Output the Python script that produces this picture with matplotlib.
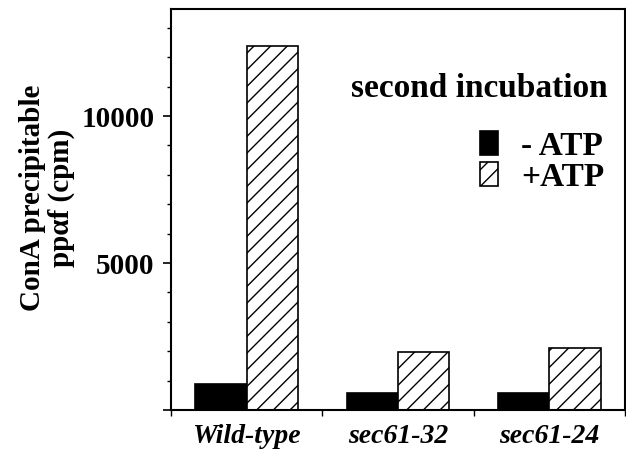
import matplotlib
matplotlib.use("Agg")
import matplotlib.pyplot as plt
from matplotlib.ticker import MultipleLocator, FixedLocator, FuncFormatter
import numpy as np

plt.rcParams['font.family'] = ['Liberation Serif', 'DejaVu Serif']
plt.rcParams['hatch.linewidth'] = 1.0

strains = ['Wild-type', 'sec61-32', 'sec61-24']
minus_atp = [900, 590, 580]
plus_atp = [12400, 1990, 2100]
series_labels = ['- ATP', '+ATP']

fig = plt.figure(figsize=(6.26, 4.53), dpi=100)
ax = fig.add_axes([0.2732, 0.0949, 0.7252, 0.8851])

x = np.arange(len(strains))
w = 0.34
b1 = ax.bar(x - w / 2, minus_atp, w, color='black', edgecolor='black', linewidth=1.2,
            label=series_labels[0])
b2 = ax.bar(x + w / 2, plus_atp, w, color='white', edgecolor='black', linewidth=1.2,
            hatch='//', label=series_labels[1])

ax.set_xlim(-0.5, 2.5)
ax.set_ylim(0, 13640)

# y ticks
ax.yaxis.set_major_locator(FixedLocator([0, 5000, 10000]))
ax.yaxis.set_minor_locator(MultipleLocator(1000))
ax.yaxis.set_major_formatter(FuncFormatter(lambda v, p: '' if v == 0 else '%d' % v))
ax.tick_params(axis='y', which='major', length=6, width=1.2, pad=6, labelsize=21)
ax.tick_params(axis='y', which='minor', length=3, width=1.0)
for t in ax.get_yticklabels():
    t.set_fontweight('bold')

# x ticks: marks between groups, labels at group centers
ax.xaxis.set_major_locator(FixedLocator([-0.5, 0.5, 1.5, 2.5]))
ax.xaxis.set_major_formatter(FuncFormatter(lambda v, p: ''))
ax.set_xticks(x, strains, minor=True)
ax.tick_params(axis='x', which='major', length=4, width=1.0)
ax.tick_params(axis='x', which='minor', length=0, pad=10, labelsize=20)
for t in ax.get_xticklabels(minor=True):
    t.set_fontweight('bold')
    t.set_fontstyle('italic')

for s in ax.spines.values():
    s.set_linewidth(1.5)

fig.text(0.075, 0.563, 'ConA precipitable\nppαf (cpm)', rotation=90, ha='center', va='center',
         fontsize=21, fontweight='bold', linespacing=1.1)

ax.text(0.9626, 0.803, 'second incubation', transform=ax.transAxes, ha='right', va='center',
        fontsize=24, fontweight='bold')
ax.legend(handles=[b1, b2], loc='upper right', bbox_to_anchor=(0.955, 0.697),
          frameon=False, prop={'weight': 'bold', 'size': 24},
          handlelength=0.55, handleheight=0.7, handletextpad=0.7, labelspacing=0.0,
          borderaxespad=0, borderpad=0)

fig.savefig('out.png', dpi=100)
